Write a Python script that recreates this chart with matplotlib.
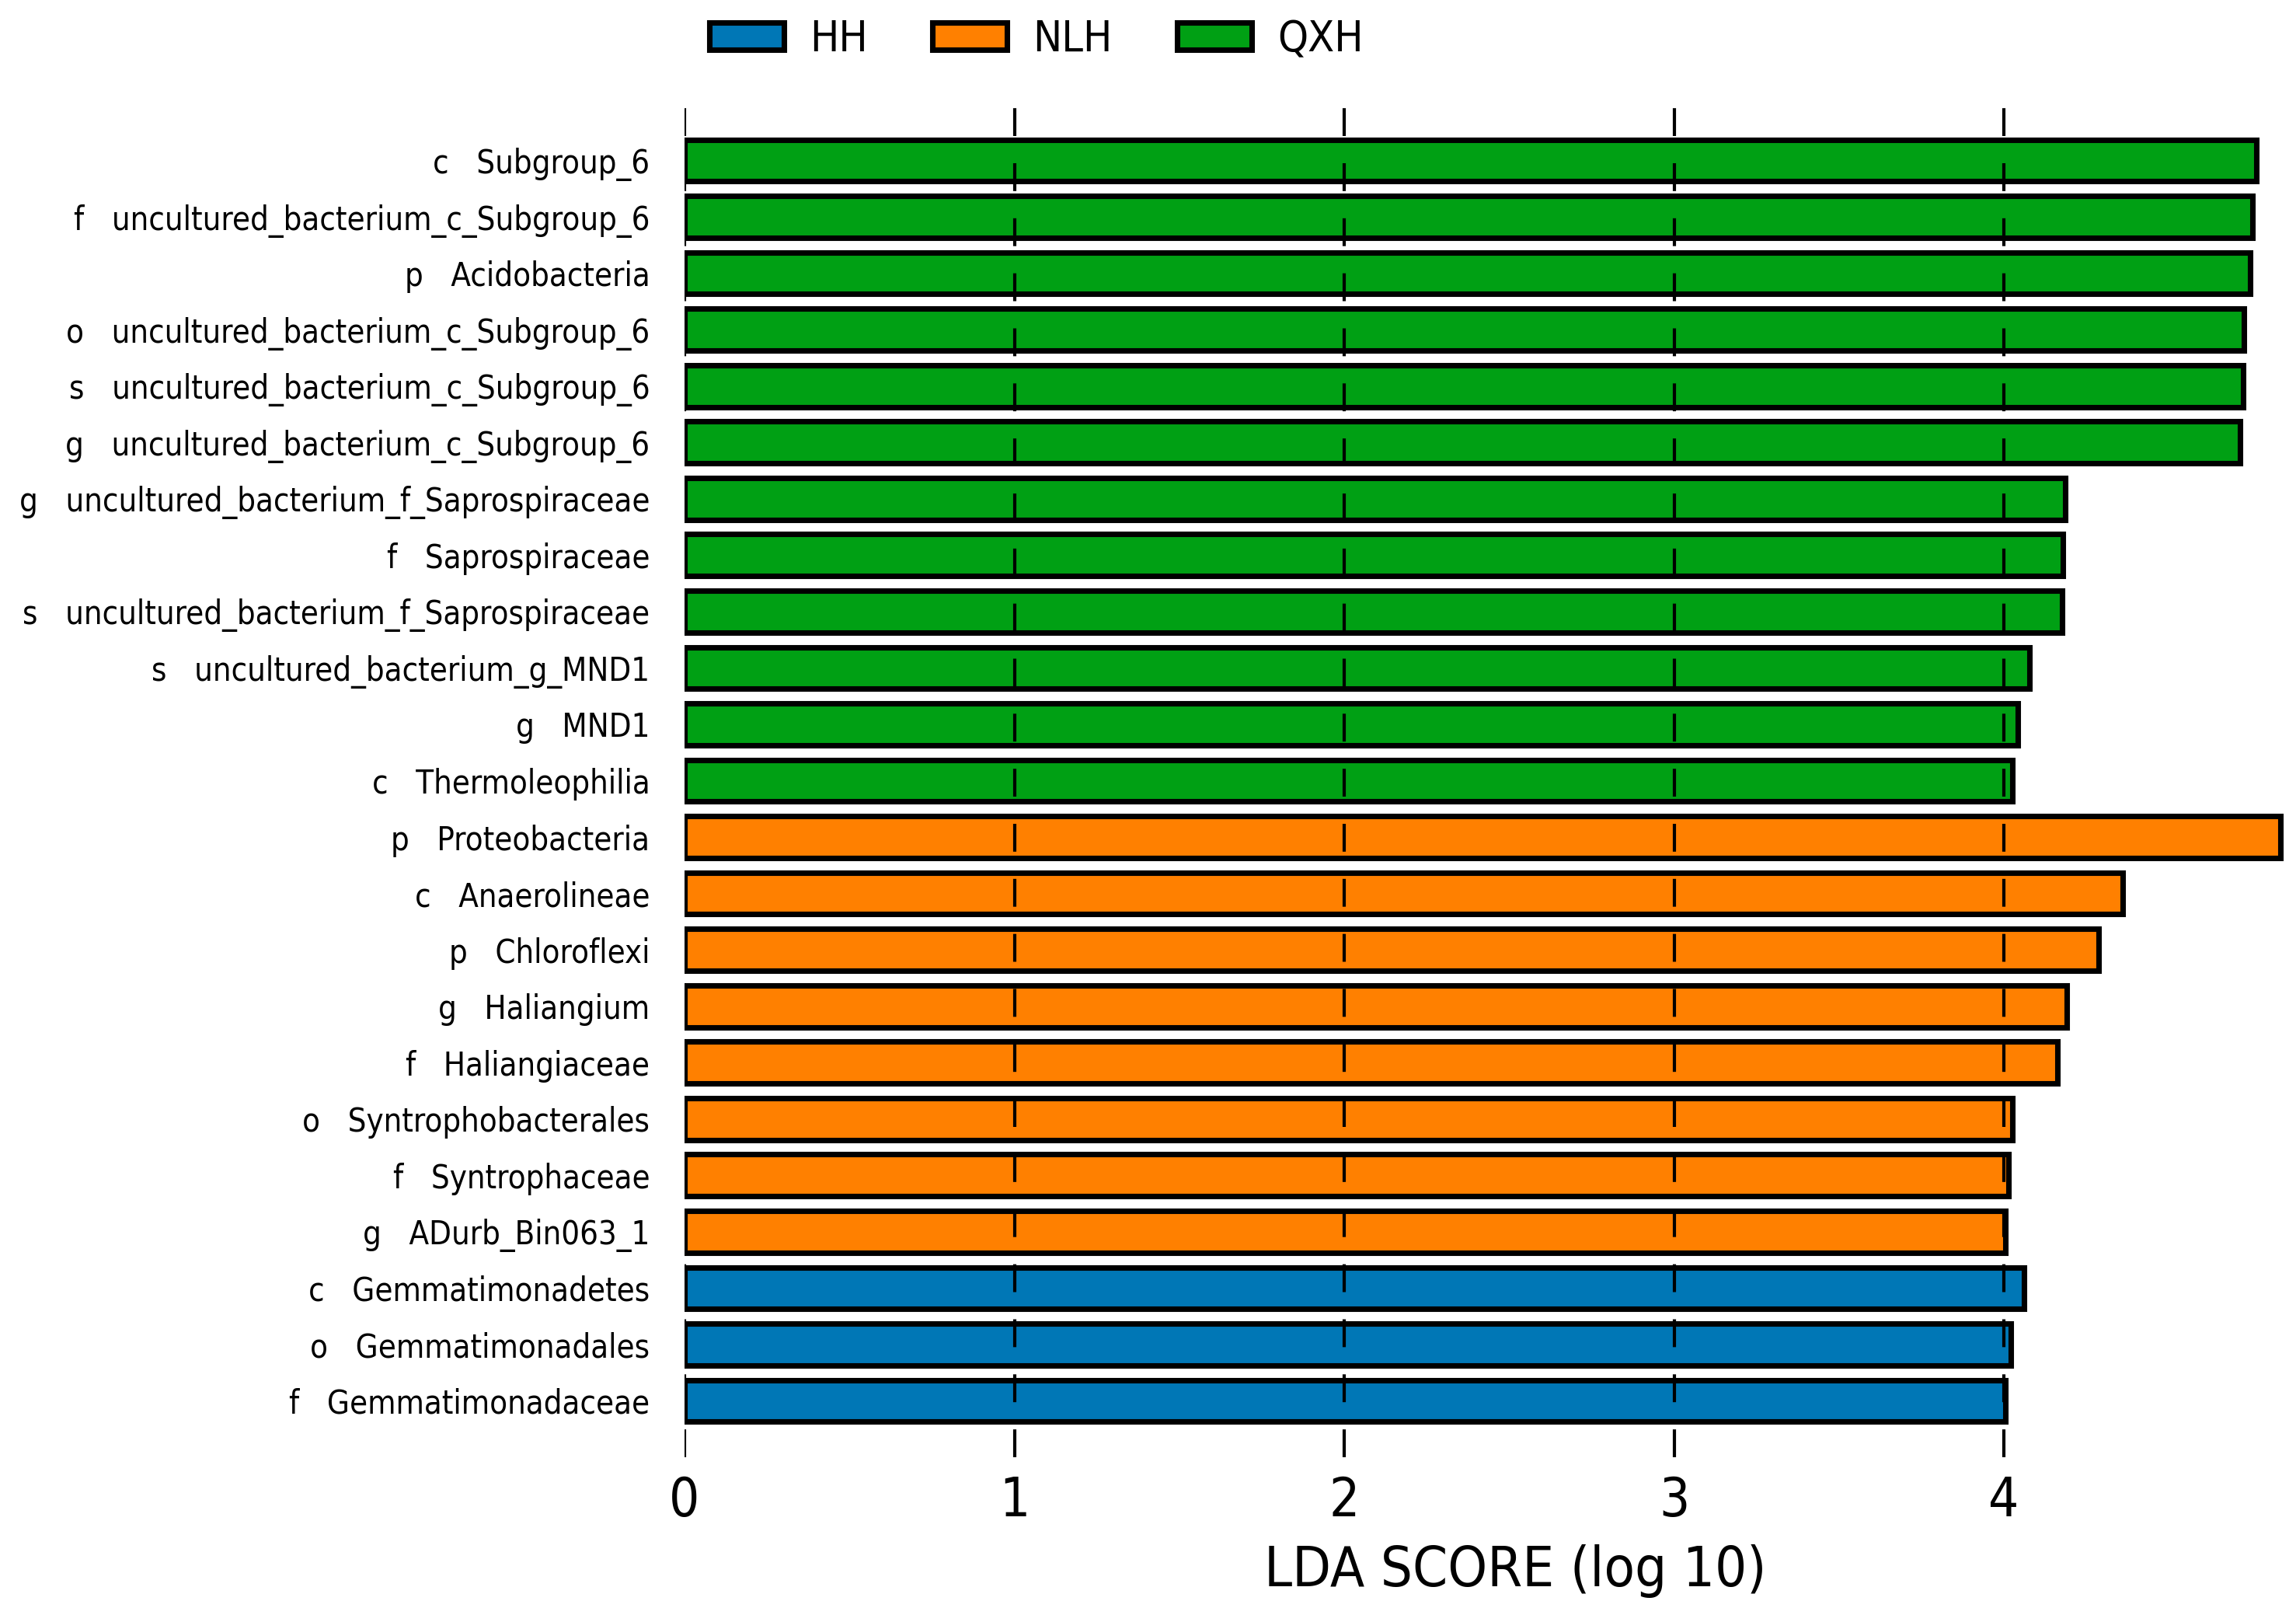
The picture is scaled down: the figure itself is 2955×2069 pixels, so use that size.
import matplotlib
matplotlib.use("Agg")
import matplotlib.pyplot as plt
from matplotlib.patches import Patch

plt.rcParams['font.family'] = ['DejaVu Sans']
plt.rcParams['font.stretch'] = 'condensed'
plt.rcParams['lines.scale_dashes'] = False

labels = [
    "c   Subgroup_6",
    "f   uncultured_bacterium_c_Subgroup_6",
    "p   Acidobacteria",
    "o   uncultured_bacterium_c_Subgroup_6",
    "s   uncultured_bacterium_c_Subgroup_6",
    "g   uncultured_bacterium_c_Subgroup_6",
    "g   uncultured_bacterium_f_Saprospiraceae",
    "f   Saprospiraceae",
    "s   uncultured_bacterium_f_Saprospiraceae",
    "s   uncultured_bacterium_g_MND1",
    "g   MND1",
    "c   Thermoleophilia",
    "p   Proteobacteria",
    "c   Anaerolineae",
    "p   Chloroflexi",
    "g   Haliangium",
    "f   Haliangiaceae",
    "o   Syntrophobacterales",
    "f   Syntrophaceae",
    "g   ADurb_Bin063_1",
    "c   Gemmatimonadetes",
    "o   Gemmatimonadales",
    "f   Gemmatimonadaceae",
]
lda_scores = [
    4.765, 4.755, 4.747, 4.729, 4.725, 4.716,
    4.185, 4.180, 4.176, 4.078, 4.042, 4.025,
    4.838, 4.360, 4.287, 4.190, 4.162, 4.026, 4.013, 4.005,
    4.061, 4.021, 4.004,
]
groups = (["QXH"] * 12) + (["NLH"] * 8) + (["HH"] * 3)
group_names = ["HH", "NLH", "QXH"]
group_colors = {"HH": "#0077b6", "NLH": "#ff8000", "QXH": "#00a014"}
xticks = [0, 1, 2, 3, 4]
xlabel = "LDA SCORE (log 10)"

W, H, DPI = 2955, 2069, 300
fig = plt.figure(figsize=(W / DPI, H / DPI), dpi=DPI)
left, right, top, bottom = 881, 2950, 134, 1875
unit = 424.5
ax = fig.add_axes([left / W, 1 - bottom / H, (right - left) / W, (bottom - top) / H])

n = len(labels)
ypos = list(range(n))
ax.barh(ypos, lda_scores, height=0.74,
        color=[group_colors[g] for g in groups],
        edgecolor="black", linewidth=1.7, zorder=1)

ax.set_ylim(n - 0.0, -1.0)
ax.set_xlim(0, (right - left) / unit)
for s in ax.spines.values():
    s.set_visible(False)

ax.set_yticks(ypos)
ax.set_yticklabels(labels, fontsize=10.0)
ax.tick_params(axis="y", length=0, pad=10.7)
ax.set_xticks(xticks)
ax.set_xticklabels([str(t) for t in xticks], fontsize=16.5)
ax.tick_params(axis="x", length=0, pad=5.5)

ax.set_axisbelow(False)
ax.xaxis.grid(True, color="black", linewidth=1.0, linestyle=(0, (8.6, 8.4)), zorder=3)
ax.yaxis.grid(False)

fig.text(1950 / W, 1 - 2022 / H, xlabel, fontsize=17.3, ha="center", va="center")

handles = [Patch(facecolor=group_colors[g], edgecolor="black", linewidth=1.7, label=g)
           for g in group_names]
fig.legend(handles=handles, loc="center", bbox_to_anchor=(1334 / W, 1 - 51 / H),
           ncol=3, frameon=False, fontsize=13.3, handlelength=1.73, handleheight=0.62,
           handletextpad=0.6, columnspacing=1.5)

fig.savefig("out.png", dpi=DPI)
